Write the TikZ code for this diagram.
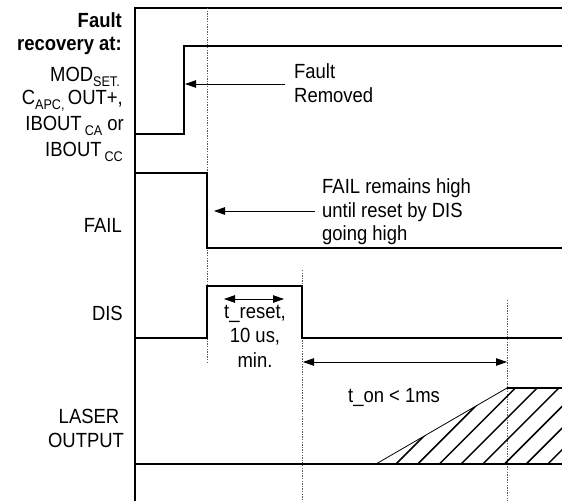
\documentclass[tikz,border=0pt]{standalone}
\usepackage{fontspec}
\setmainfont[FakeStretch=0.9]{Liberation Sans}
\usetikzlibrary{arrows.meta}
\newcommand{\lowsub}[2]{\kern#1\raisebox{-5pt}{\fontsize{14}{14}\selectfont #2}}
\begin{document}
\begin{tikzpicture}[x=1pt,y=-1pt,
  sig/.style={line width=1.6pt, line join=miter},
  axis/.style={line width=1.3pt},
  guide/.style={black!65, line width=0.8pt, dash pattern=on 1.3pt off 1.3pt},
  note/.style={line width=0.8pt, -{Triangle[length=11pt,width=7.5pt]}},
  twoway/.style={line width=0.8pt, {Triangle[length=11pt,width=7.5pt]}-{Triangle[length=11pt,width=7.5pt]}},
  lbl/.style={font=\fontsize{20.5}{24}\selectfont, inner sep=0pt},
  blbl/.style={font=\fontsize{20.5}{24}\selectfont\bfseries, inner sep=0pt},
  hatch/.style={line width=1.5pt},
]
\useasboundingbox (0,0) rectangle (562,501);

% axes
\coordinate (tr) at (562,8);
\coordinate (tl) at (135,8);
\coordinate (bl) at (135,501);
\draw[axis] (tr) -- (tl) -- (bl);

% guides
\coordinate (g1a) at (207,8);   \coordinate (g1b) at (207,364);
\coordinate (g2a) at (302,270); \coordinate (g2b) at (302,501);
\coordinate (g3a) at (507,300); \coordinate (g3b) at (507,501);
\draw[guide] (g1a) -- (g1b);
\draw[guide] (g2a) -- (g2b);
\draw[guide] (g3a) -- (g3b);

% fault recovery signal
\draw[sig] (135,134) -- (184,134) -- (184,46) -- (562,46);
% FAIL
\draw[sig] (135,173) -- (207,173) -- (207,248) -- (562,248);
% DIS
\draw[sig] (135,338) -- (207,338) -- (207,286) -- (302,286) -- (302,338) -- (562,338);
% LASER OUTPUT
\coordinate (r0) at (376,464);
\coordinate (r1) at (507,388);
\begin{scope}
  \clip (r0) -- (r1) -- (562,388) -- (562,464) -- cycle;
  \foreach \k in {-5,...,9}
    \draw[hatch] ({390+21.7*\k},470) -- ({390+21.7*\k+82},388);
\end{scope}
\draw[line width=0.8pt] (r0) -- (r1);
\draw[sig] (r1) -- (562,388);
\draw[sig] (135,464) -- (562,464);

% arrows
\coordinate (a1s) at (285,84);  \coordinate (a1e) at (185,84);
\draw[note] (a1s) -- (a1e);
\coordinate (a2s) at (315,211); \coordinate (a2e) at (214,211);
\draw[note] (a2s) -- (a2e);
\coordinate (a3s) at (224,299); \coordinate (a3e) at (284,299);
\draw[twoway] (a3s) -- (a3e);
\coordinate (a4s) at (303,362); \coordinate (a4e) at (507,362);
\draw[twoway] (a4s) -- (a4e);

% left labels
\node[blbl, anchor=base east] (l1) at (122,27) {Fault};
\node[blbl, anchor=base east] (l2) at (122,50) {recovery at:};
\node[lbl, anchor=base east] (l3) at (120,81) {MOD\lowsub{0pt}{SET.}};
\node[lbl, anchor=base east] (l4) at (123,104) {C\lowsub{0pt}{APC,}\,OUT+,};
\node[lbl, anchor=base east] (l5) at (124,130) {IBOUT\lowsub{3pt}{CA} or};
\node[lbl, anchor=base east] (l6) at (123,156) {IBOUT\lowsub{3pt}{CC}};
\node[lbl, anchor=base east] (lf) at (122,232) {FAIL};
\node[lbl, anchor=base east] (ld) at (123,320) {DIS};
\node[lbl, anchor=base] (ll1) at (89,423) {LASER};
\node[lbl, anchor=base] (ll2) at (86,447) {OUTPUT};

% notes
\node[lbl, anchor=base west] (n1) at (294,78) {Fault};
\node[lbl, anchor=base west] (n2) at (294,102) {Removed};
\node[lbl, anchor=base west] (n3) at (322,193) {FAIL remains high};
\node[lbl, anchor=base west] (n4) at (322,217) {until reset by DIS};
\node[lbl, anchor=base west] (n5) at (322,240) {going high};
\node[lbl, anchor=base] (n6) at (255,318) {t\_reset,};
\node[lbl, anchor=base] (n7) at (255,342) {10 us,};
\node[lbl, anchor=base] (n8) at (255,367) {min.};
\node[lbl, anchor=base west] (n9) at (348,402) {t\_on < 1ms};
\end{tikzpicture}
\end{document}
